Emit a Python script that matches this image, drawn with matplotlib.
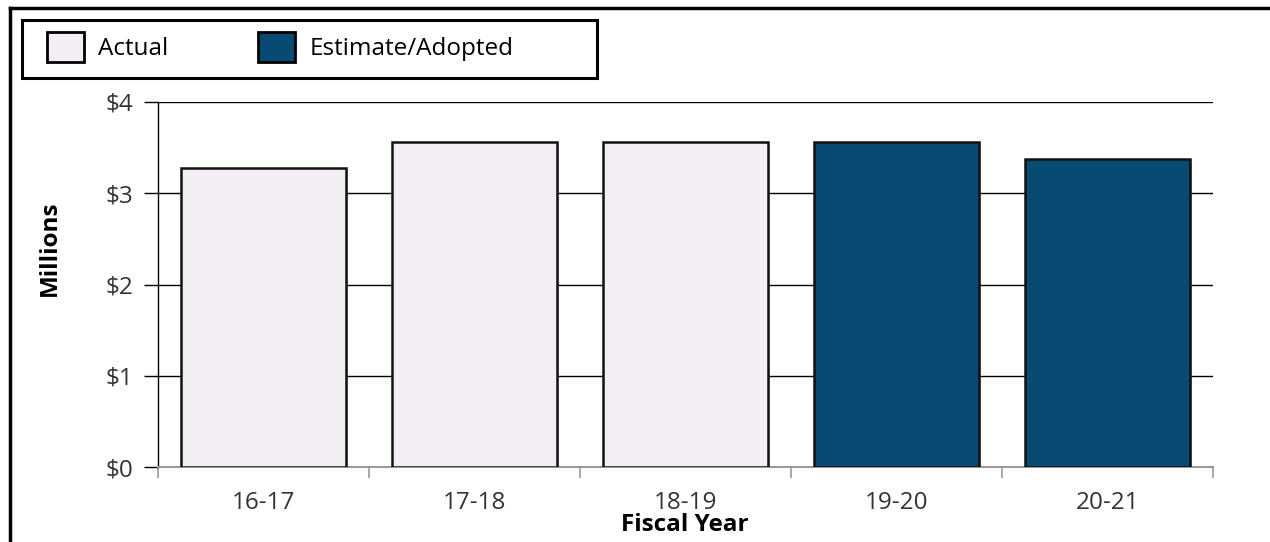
import matplotlib.pyplot as plt
import matplotlib.patheffects as pe
from matplotlib.patches import Patch, Rectangle
from matplotlib.lines import Line2D
import numpy as np

plt.rcParams['font.family'] = ['Open Sans', 'DejaVu Sans']

years = ["16-17", "17-18", "18-19", "19-20", "20-21"]
amounts = [3.28, 3.56, 3.56, 3.56, 3.38]  # millions of dollars
kinds = ["Actual", "Actual", "Actual", "Estimate/Adopted", "Estimate/Adopted"]
y_ticks = [0, 1, 2, 3, 4]
y_labels = ["$0", "$1", "$2", "$3", "$4"]

colors = {"Actual": "#F2EEF4", "Estimate/Adopted": "#074A72"}

W, H = 1270, 542
fs = 17.5
fig = plt.figure(figsize=(W / 100, H / 100), dpi=100)
ax = fig.add_axes([158 / W, 1 - 467 / H, (1213 - 158) / W, (467 - 102) / H])

x = np.arange(len(years))
shadow = [pe.SimplePatchShadow(offset=(1.5, -1.5), shadow_rgbFace="#999999", alpha=0.5),
          pe.Normal()]
for xi, val, kind in zip(x, amounts, kinds):
    b = ax.bar(xi, val, width=0.78, color=colors[kind], edgecolor="#111111",
               linewidth=1.8, zorder=3)
    for p in b:
        p.set_path_effects(shadow)

ax.set_xlim(-0.5, len(years) - 0.5)
ax.set_ylim(0, 4)
ax.set_yticks(y_ticks)
ax.set_yticklabels(y_labels)
ax.yaxis.grid(True, color="black", linewidth=1.0, zorder=0)
ax.set_axisbelow(True)

ax.set_xticks(x)
ax.set_xticklabels(years)
ax.set_xticks(np.arange(-0.5, len(years)), minor=True)
ax.tick_params(axis="x", which="major", length=0, pad=17, labelsize=fs, labelcolor="#333333")
ax.tick_params(axis="x", which="minor", length=8, width=1.2, color="#999999")
ax.tick_params(axis="y", length=10, width=1.0, color="black", pad=8,
               labelsize=fs, labelcolor="#333333")

for side in ("top", "right"):
    ax.spines[side].set_visible(False)
ax.spines["left"].set_color("black")
ax.spines["left"].set_linewidth(1.0)
ax.spines["bottom"].set_color("#999999")
ax.spines["bottom"].set_linewidth(1.5)

fig.text(50 / W, 1 - 248 / H, "Millions", rotation=90, ha="center", va="center",
         fontsize=fs, fontweight="bold")
fig.text(685 / W, 1 - 525 / H, "Fiscal Year", ha="center", va="center",
         fontsize=fs, fontweight="bold")

# outer frame (top and left edges visible)
fig.add_artist(Line2D([10 / W, 10 / W], [0, 1 - 8 / H], color="black", linewidth=2.5))
fig.add_artist(Line2D([10 / W, 1], [1 - 8 / H, 1 - 8 / H], color="black", linewidth=2.5))

# legend box
fig.add_artist(Rectangle((22 / W, 1 - 78 / H), (597 - 22) / W, (78 - 20) / H,
                         transform=fig.transFigure, fill=False,
                         edgecolor="black", linewidth=2.2))
handles = [Patch(facecolor=colors[k], edgecolor="black", linewidth=2.0)
           for k in ["Actual", "Estimate/Adopted"]]
em = fs / 0.72
fig.legend(handles, ["Actual", "Estimate/Adopted"], ncol=2, frameon=False,
           loc="center left", bbox_to_anchor=(47 / W, 1 - 47 / H),
           fontsize=fs, handlelength=37 / em, handleheight=36 / em,
           handletextpad=14 / em, columnspacing=90 / em, borderpad=0, borderaxespad=0)

fig.savefig("out.png", dpi=100)
